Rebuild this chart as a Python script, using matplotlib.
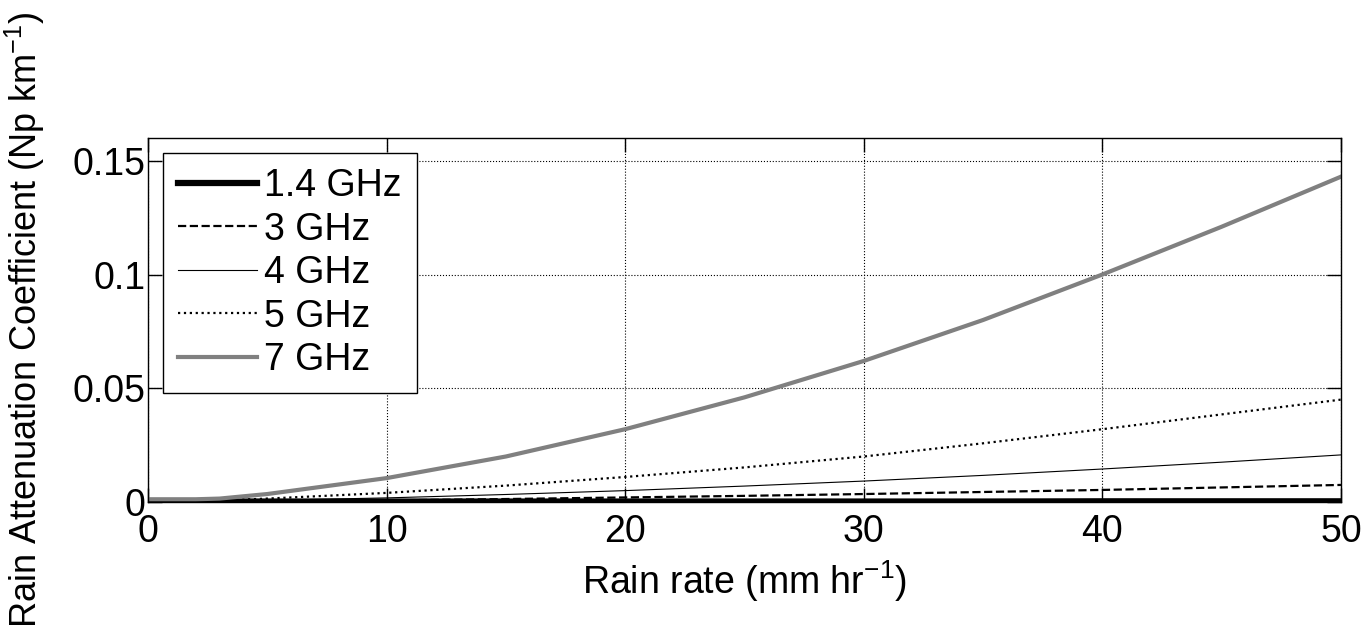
import numpy as np
import matplotlib
matplotlib.use('Agg')
import matplotlib.pyplot as plt

plt.rcParams['font.family'] = ['Liberation Sans', 'DejaVu Sans']
plt.rcParams['mathtext.fontset'] = 'custom'
plt.rcParams['mathtext.rm'] = 'Liberation Sans'

# rain rate (mm/hr)
rain = [0, 2, 3, 5, 10, 15, 20, 25, 30, 35, 40, 45, 50]

# attenuation (Np/km)
att_1p4 = [0.0002, 0.0002, 0.0002, 0.0002, 0.0002, 0.0002, 0.0002, 0.0002, 0.0002, 0.0002, 0.0003, 0.0003, 0.0003]
att_3 = [0.0, 0.0001, 0.0002, 0.0003, 0.0007, 0.0013, 0.002, 0.0027, 0.0035, 0.0044, 0.0053, 0.0064, 0.0075]
att_4 = [0.0, 0.0002, 0.0004, 0.0007, 0.0018, 0.0033, 0.005, 0.007, 0.0092, 0.0117, 0.0145, 0.0175, 0.0207]
att_5 = [0.0, 0.0004, 0.0007, 0.0015, 0.004, 0.0072, 0.011, 0.0152, 0.020, 0.0258, 0.032, 0.0385, 0.045]
att_7 = [0.0012, 0.0012, 0.0015, 0.0035, 0.0105, 0.020, 0.032, 0.046, 0.062, 0.080, 0.100, 0.121, 0.143]

labels = ['1.4 GHz', '3 GHz', '4 GHz', '5 GHz', '7 GHz']

fig = plt.figure(figsize=(13.65, 6.36), dpi=100)
ax = fig.add_axes([0.1084, 0.2107, 0.874, 0.5723])

ax.plot(rain, att_1p4, '-', color='black', lw=4.5, label=labels[0])
ax.plot(rain, att_3, '--', color='black', lw=1.6, label=labels[1])
ax.plot(rain, att_4, '-', color='black', lw=0.8, label=labels[2])
ax.plot(rain, att_5, ':', color='black', lw=1.6, label=labels[3])
ax.plot(rain, att_7, '-', color='#808080', lw=3, label=labels[4])

ax.set_xlim(0, 50)
ax.set_ylim(0, 0.16)
ax.set_xticks([0, 10, 20, 30, 40, 50])
ax.set_yticks([0, 0.05, 0.1, 0.15])
ax.set_yticklabels(['0', '0.05', '0.1', '0.15'])
ax.grid(True, linestyle=':', color='black', lw=0.8)
ax.tick_params(direction='in', top=True, right=True, labelsize=27, length=10, width=1, pad=2)
ax.tick_params(axis='x', pad=9)
for s in ax.spines.values():
    s.set_linewidth(1)

ax.set_xlabel('Rain rate (mm hr$^{-1}$)', fontsize=27, labelpad=6)
ax.set_ylabel('Rain Attenuation Coefficient (Np km$^{-1}$)', fontsize=26, labelpad=18)

leg = ax.legend(loc='upper left', fontsize=27, fancybox=False, edgecolor='black',
                framealpha=1, handlelength=2.1, handletextpad=0.2, labelspacing=0.2,
                borderaxespad=0.4, borderpad=0.4)
leg.get_frame().set_linewidth(1)

plt.savefig('out.png', dpi=100)
